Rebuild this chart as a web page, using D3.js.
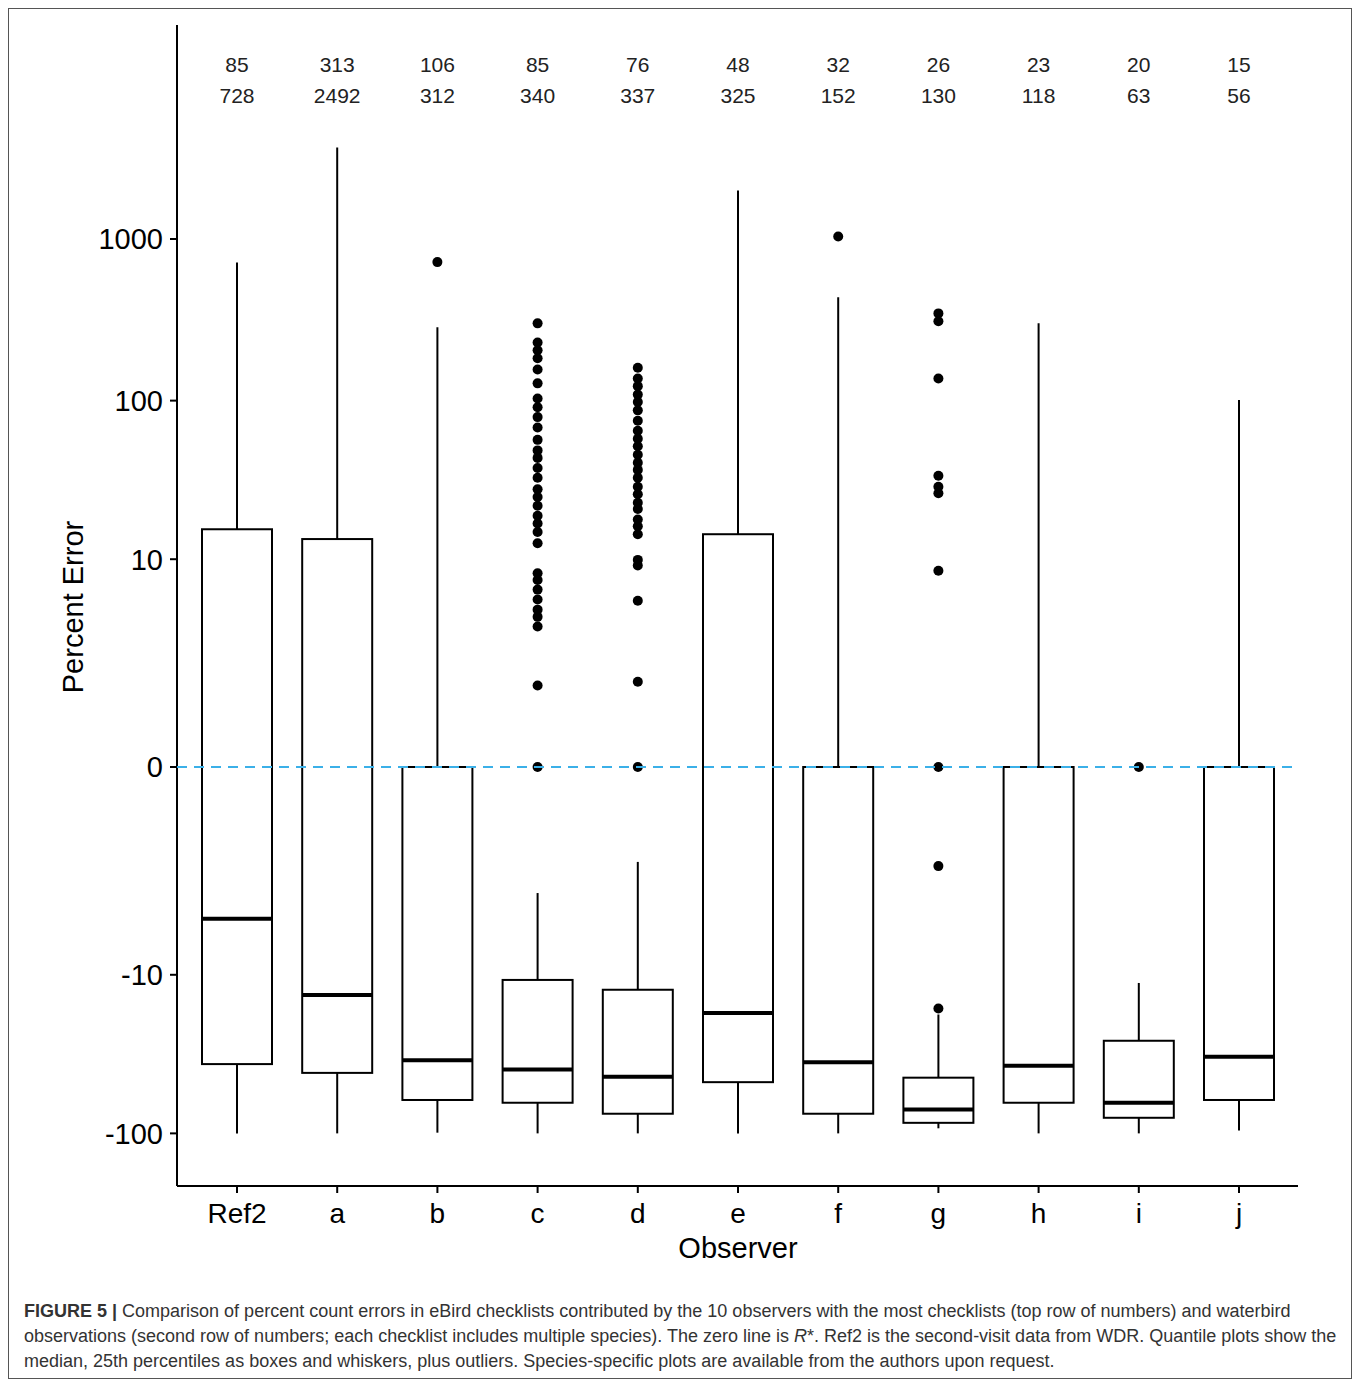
<!DOCTYPE html><html><head><meta charset="utf-8"><script src="https://cdn.jsdelivr.net/npm/d3@7"></script>
<style>body{margin:0;background:#fff;font-family:Arial,"Liberation Sans",sans-serif}</style></head><body><svg id="c" width="1360" height="1380"></svg>
<script>
const observers=["Ref2","a","b","c","d","e","f","g","h","i","j"];
const checklists=[85,313,106,85,76,48,32,26,23,20,15];
const waterbird=[728,2492,312,340,337,325,152,130,118,63,56];
const whiskLow=[-100,-100,-99,-100,-100,-100,-100,-93,-100,-100,-96];
const q1=[-37,-42,-62,-64.5,-75.5,-48,-75.5,-86,-64.5,-80,-62];
const median=[-4.2,-13.5,-35,-40,-44.4,-17.6,-36,-71,-37.9,-64.5,-33.3];
const q3=[15.6,13.5,0,-10.8,-12.5,14.5,0,-45,0,-26.4,0];
const whiskHigh=[716,3670,285,-2.75,-1.57,1994,436,-18,301,-11.3,101];
const outliers=[[],[],[720],
[301,229,205,183,156,128,103,91,79,68,57,49,44,38,33,28,25,22,19,17,15,12.7,8.1,7.3,6.3,5.4,4.6,4.1,3.5,1.2,0],
[160,137,123,109,98,87,75,65,58,52,46,41,37,33,29,26,23,21,18,16.3,14.5,9.9,9.1,5.3,1.3,0],
[],[1037],[347,310,137,34,29,26.4,8.4,0,-1.7,-16.5],[],[0],[]];
const yTicks=[-100,-10,0,10,100,1000];
const svg=d3.select("#c");
svg.append("rect").attr("x",8.5).attr("y",8.5).attr("width",1343).attr("height",1370).attr("fill","none").attr("stroke","#555");
const x=d3.scalePoint().domain(observers).range([237,1239]);
const y=d3.scaleSymlog().constant(0.55).domain([0,1000]).range([767,239]);
const g=svg.append("g");
g.append("line").attr("x1",177).attr("x2",177).attr("y1",25).attr("y2",1186).attr("stroke","#000").attr("stroke-width",2);
g.append("line").attr("x1",177).attr("x2",1298).attr("y1",1186).attr("y2",1186).attr("stroke","#000").attr("stroke-width",2);
yTicks.forEach(t=>{g.append("line").attr("x1",170).attr("x2",177).attr("y1",y(t)).attr("y2",y(t)).attr("stroke","#000").attr("stroke-width",2);
g.append("text").attr("x",163).attr("y",y(t)).attr("dy","0.36em").attr("text-anchor","end").attr("font-size",29).text(t);});
observers.forEach((o,i)=>{const cx=x(o);
g.append("line").attr("x1",cx).attr("x2",cx).attr("y1",1186).attr("y2",1193).attr("stroke","#000").attr("stroke-width",2);
g.append("text").attr("x",cx).attr("y",1223).attr("text-anchor","middle").attr("font-size",28).text(o);
g.append("text").attr("x",cx).attr("y",72).attr("text-anchor","middle").attr("font-size",21).attr("fill","#222").text(checklists[i]);
g.append("text").attr("x",cx).attr("y",103).attr("text-anchor","middle").attr("font-size",21).attr("fill","#222").text(waterbird[i]);
const L=[[whiskHigh[i],q3[i]],[q1[i],whiskLow[i]]];
L.forEach(([a,b])=>g.append("line").attr("x1",cx).attr("x2",cx).attr("y1",y(a)).attr("y2",y(b)).attr("stroke","#000").attr("stroke-width",2));
g.append("rect").attr("x",cx-35).attr("width",70).attr("y",y(q3[i])).attr("height",y(q1[i])-y(q3[i])).attr("fill","#fff").attr("stroke","#000").attr("stroke-width",2);
g.append("line").attr("x1",cx-35).attr("x2",cx+35).attr("y1",y(median[i])).attr("y2",y(median[i])).attr("stroke","#000").attr("stroke-width",4);
outliers[i].forEach(v=>g.append("circle").attr("cx",cx).attr("cy",y(v)).attr("r",5).attr("fill","#000"));
});
g.append("line").attr("x1",177).attr("x2",1298).attr("y1",y(0)).attr("y2",y(0)).attr("stroke","#3bb0e8").attr("stroke-width",2).attr("stroke-dasharray","10,7");
g.append("text").attr("x",738).attr("y",1258).attr("text-anchor","middle").attr("font-size",29).text("Observer");
g.append("text").attr("transform","translate(83,607) rotate(-90)").attr("text-anchor","middle").attr("font-size",29).text("Percent Error");
const cap=["<tspan font-weight='bold'>FIGURE 5 |</tspan> Comparison of percent count errors in eBird checklists contributed by the 10 observers with the most checklists (top row of numbers) and waterbird",
"observations (second row of numbers; each checklist includes multiple species). The zero line is <tspan font-style='italic'>R</tspan>*. Ref2 is the second-visit data from WDR. Quantile plots show the",
"median, 25th percentiles as boxes and whiskers, plus outliers. Species-specific plots are available from the authors upon request."];
cap.forEach((c,i)=>svg.append("text").attr("x",24).attr("y",1317+i*25).attr("font-size",18).attr("textLength",null).attr("fill","#333").html(c));
</script></body></html>
